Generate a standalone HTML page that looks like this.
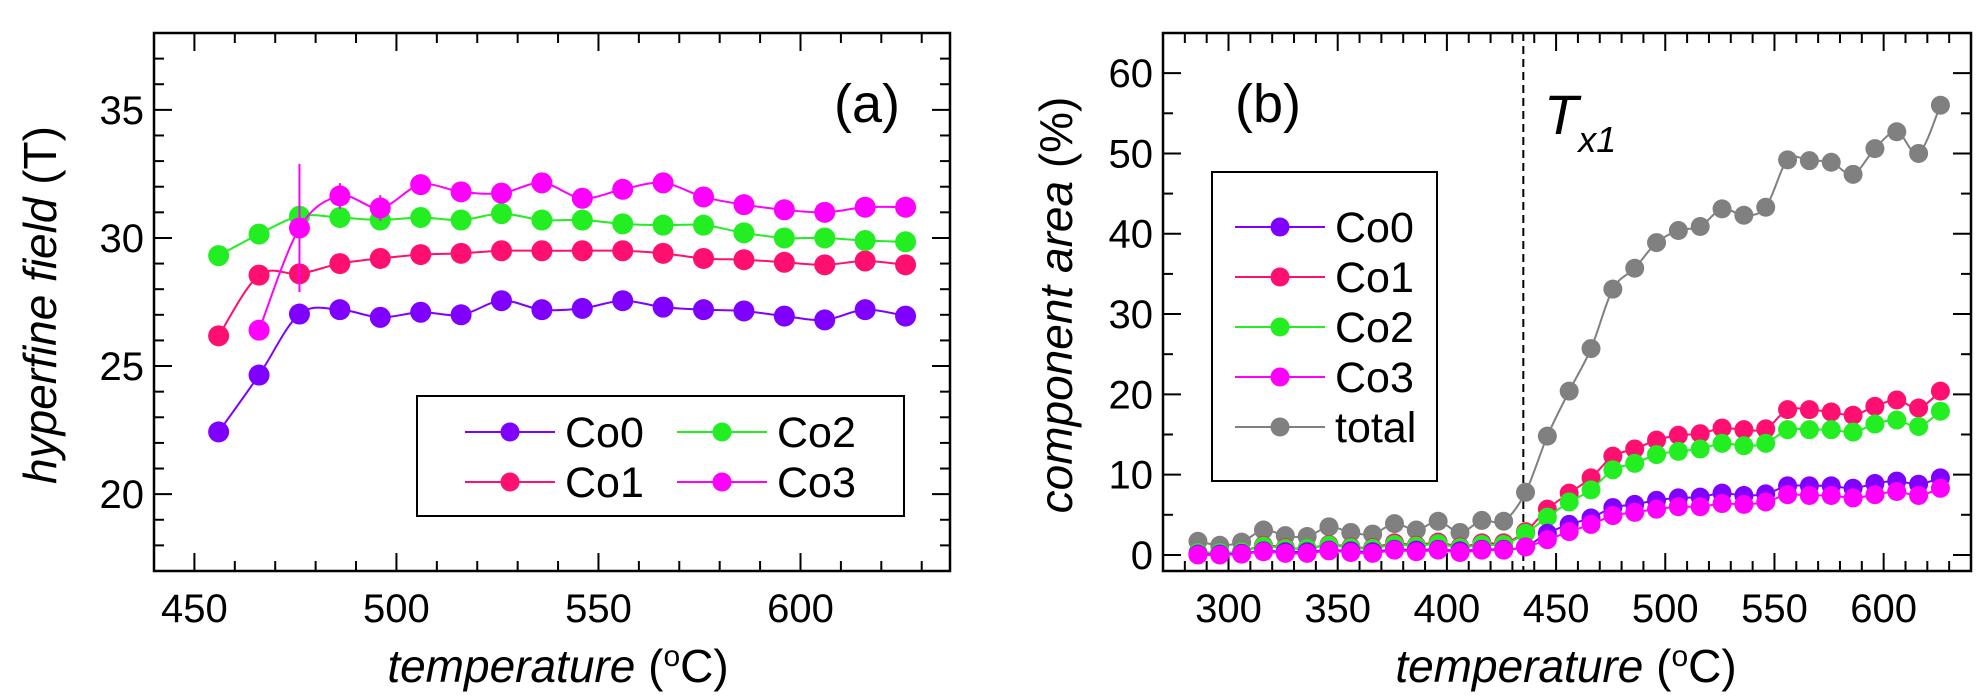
<!DOCTYPE html>
<html><head><meta charset="utf-8"><style>
html,body{margin:0;padding:0;background:#fff;}
svg{display:block;font-family:"Liberation Sans",sans-serif;}
</style></head><body>
<svg id="fig" width="1977" height="700" viewBox="0 0 1977 700" xmlns="http://www.w3.org/2000/svg"></svg>
<script>
// ---------- Panel (a) data ----------
const aTemps = [456,466,476,486,496,506,516,526,536,546,556,566,576,586,596,606,616,626];
const aCo0 = [22.43,24.65,27.03,27.2,26.9,27.1,27.0,27.55,27.2,27.25,27.55,27.3,27.2,27.15,26.95,26.8,27.2,26.95];
const aCo1 = [26.18,28.55,28.6,29.0,29.2,29.35,29.4,29.5,29.5,29.5,29.5,29.4,29.2,29.15,29.05,28.95,29.1,28.95];
const aCo2 = [29.31,30.15,30.85,30.8,30.7,30.8,30.7,30.95,30.7,30.7,30.55,30.5,30.5,30.2,30.0,30.0,29.9,29.85];
const aCo3Temps = [466,476,486,496,506,516,526,536,546,556,566,576,586,596,606,616,626];
const aCo3 = [26.4,30.39,31.64,31.17,32.08,31.8,31.75,32.15,31.55,31.9,32.15,31.6,31.3,31.1,31.0,31.2,31.2];
const aCo3Err = [0.3,2.5,0.5,0.5,0.3,0.3,0.4,0.3,0.4,0.2,0.3,0.3,0.3,0.2,0.3,0.3,0.3];
const aXTicks = [450,500,550,600];
const aYTicks = [20,25,30,35];
// ---------- Panel (b) data ----------
const bTemps = [286,296,306,316,326,336,346,356,366,376,386,396,406,416,426,436,446,456,466,476,486,496,506,516,526,536,546,556,566,576,586,596,606,616,626];
const bTotal = [1.7,1.2,1.6,3.1,2.4,2.3,3.5,2.8,2.6,3.9,3.1,4.2,2.8,4.3,4.2,7.8,14.8,20.4,25.7,33.1,35.7,38.9,40.4,40.9,43.1,42.3,43.3,49.2,49.1,48.9,47.4,50.6,52.7,50.0,56.0];
const bCo1 = [0.3,0.3,0.4,1.2,0.9,0.8,1.3,1.0,0.9,1.5,1.2,1.6,1.0,1.5,1.5,2.9,5.7,7.7,9.6,12.3,13.2,14.3,14.9,15.1,15.8,15.6,15.7,18.1,18.1,17.8,17.4,18.5,19.3,18.3,20.4];
const bCo2 = [0.3,0.3,0.4,1.1,0.8,0.8,1.2,0.9,0.8,1.3,1.1,1.4,0.9,1.3,1.3,2.7,4.7,6.6,8.1,10.6,11.4,12.5,12.9,13.2,13.9,13.6,13.9,15.6,15.6,15.6,15.3,16.3,16.8,16.0,17.9];
const bCo0 = [0.1,0.1,0.2,0.5,0.4,0.4,0.6,0.5,0.4,0.7,0.6,0.7,0.5,0.7,0.7,1.0,2.7,3.8,4.6,5.9,6.3,6.8,7.1,7.2,7.7,7.4,7.6,8.6,8.6,8.6,8.3,8.9,9.2,8.8,9.6];
const bCo3 = [0.0,0.0,0.1,0.4,0.2,0.2,0.5,0.3,0.2,0.6,0.4,0.6,0.3,0.6,0.6,1.0,1.9,2.9,3.8,4.9,5.3,5.7,6.0,6.0,6.4,6.3,6.6,7.5,7.4,7.4,7.1,7.5,7.9,7.4,8.3];
const bXTicks = [300,350,400,450,500,550,600];
const bYTicks = [0,10,20,30,40,50,60];
const bTx1 = 435;

const NS = "http://www.w3.org/2000/svg";
const svg = document.getElementById('fig');
function mk(tag, attrs, parent){ const e=document.createElementNS(NS,tag); for(const k in attrs) e.setAttribute(k,attrs[k]); (parent||svg).appendChild(e); return e; }
function smooth(pts){
  if(pts.length<2) return '';
  let d='M'+pts[0][0]+','+pts[0][1];
  for(let i=0;i<pts.length-1;i++){
    const p0=pts[Math.max(0,i-1)],p1=pts[i],p2=pts[i+1],p3=pts[Math.min(pts.length-1,i+2)];
    const c1=[p1[0]+(p2[0]-p0[0])/6,p1[1]+(p2[1]-p0[1])/6];
    const c2=[p2[0]-(p3[0]-p1[0])/6,p2[1]-(p3[1]-p1[1])/6];
    d+=' C'+c1[0]+','+c1[1]+' '+c2[0]+','+c2[1]+' '+p2[0]+','+p2[1];
  }
  return d;
}
function makeAxes(P){
  P.sx = v => P.L + (v-P.x0)/(P.x1-P.x0)*(P.R-P.L);
  P.sy = v => P.B - (v-P.y0)/(P.y1-P.y0)*(P.B-P.T);
}
function drawFrame(P, g, xt, yt, xminor, yminor){
  const f=mk('rect',{x:P.L,y:P.T,width:P.R-P.L,height:P.B-P.T,fill:'none',stroke:'#000','stroke-width':2.5},g);
  
  
  for(let v=Math.ceil(P.x0/xminor)*xminor; v<=P.x1; v+=xminor){
    const major = xt.includes(v); const len = major?18:10; const x=P.sx(v);
    const t1=mk('line',{x1:x,y1:P.B,x2:x,y2:P.B-len,stroke:'#000','stroke-width':2},g);
    
    
    const t2=mk('line',{x1:x,y1:P.T,x2:x,y2:P.T+len,stroke:'#000','stroke-width':2},g);
    
    
    if(major){
      const tx=mk('text',{x:x,y:P.B+51,'font-size':40,'text-anchor':'middle'},g); tx.textContent=v;
      
      
    }
  }
  for(let v=Math.ceil(P.y0/yminor)*yminor; v<=P.y1; v+=yminor){
    const major = yt.includes(v); const len = major?18:10; const y=P.sy(v);
    const t1=mk('line',{x1:P.L,y1:y,x2:P.L+len,y2:y,stroke:'#000','stroke-width':2},g);
    
    
    const t2=mk('line',{x1:P.R,y1:y,x2:P.R-len,y2:y,stroke:'#000','stroke-width':2},g);
    
    
    if(major){
      const tx=mk('text',{x:P.L-10,y:y+14,'font-size':40,'text-anchor':'end'},g); tx.textContent=v;
      
      
    }
  }
}
function series(P,g,name,xs,ys,color,r,errs){
  const sg=mk('g',{},g);
  
  
  const pts=xs.map((x,i)=>[P.sx(x),P.sy(ys[i])]);
  const p=mk('path',{d:smooth(pts),fill:'none',stroke:color,'stroke-width':2},sg);
  
  
  if(errs){
    xs.forEach((x,i)=>{
      const e=mk('line',{x1:P.sx(x),x2:P.sx(x),y1:P.sy(ys[i]-errs[i]),y2:P.sy(ys[i]+errs[i]),stroke:color,'stroke-width':2},sg);
      
      
    });
  }
  xs.forEach((x,i)=>{
    const c=mk('circle',{cx:P.sx(x),cy:P.sy(ys[i]),r:r,fill:color},sg);
    
    
  });
}
function legendEntry(g,P,x,y,name,color,len){
  const eg=mk('g',{},g);
  
  
  mk('line',{x1:x,y1:y,x2:x+len,y2:y,stroke:color,'stroke-width':2},eg);
  mk('circle',{cx:x+len/2,cy:y,r:9.5,fill:color},eg);
  const t=mk('text',{x:x+len+10,y:y+15,'font-size':43},eg); t.textContent=name;
}
const C0='#7f00ff',C1='#ff1070',C2='#22ee22',C3='#ff00ff',CT='#808080';

// ---------- Panel a ----------
const A={id:'panel-a',L:154,R:950,T:33,B:571,x0:440,x1:637,y0:17,y1:38}; makeAxes(A);
const ga=mk('g',{});  
drawFrame(A,ga,aXTicks,aYTicks,10,1);
series(A,ga,'co0',aTemps,aCo0,C0,10.5);
series(A,ga,'co1',aTemps,aCo1,C1,10.5);
series(A,ga,'co2',aTemps,aCo2,C2,10.5);
series(A,ga,'co3',aCo3Temps,aCo3,C3,10.5,aCo3Err);
const la=mk('g',{},ga);  
mk('rect',{x:417,y:396,width:487,height:120,fill:'#fff',stroke:'#000','stroke-width':2},la);
legendEntry(la,A,465,432,'Co0',C0,90);
legendEntry(la,A,465,482,'Co1',C1,90);
legendEntry(la,A,677,432,'Co2',C2,90);
legendEntry(la,A,677,482,'Co3',C3,90);
const lbA=mk('text',{x:867,y:122,'font-size':54,'text-anchor':'middle'},ga); lbA.textContent='(a)';
 
const xtA=mk('text',{x:558,y:682,'font-size':46,'text-anchor':'middle'},ga);
xtA.innerHTML='<tspan font-style="italic">temperature</tspan>  (<tspan dy="-16" font-size="30">o</tspan><tspan dy="16">C)</tspan>';
 
const ytA=mk('text',{x:0,y:0,'font-size':46,'text-anchor':'middle',transform:'translate(56,305) rotate(-90)'},ga);
ytA.innerHTML='<tspan font-style="italic">hyperfine field</tspan>  (T)';
 

// ---------- Panel b ----------
const B={id:'panel-b',L:1163,R:1971,T:33,B:571,x0:270,x1:640,y0:-2,y1:65}; makeAxes(B);
const gb=mk('g',{});  
drawFrame(B,gb,bXTicks,bYTicks,10,5);
const dl=mk('line',{x1:B.sx(bTx1),x2:B.sx(bTx1),y1:B.T,y2:B.B,stroke:'#000','stroke-width':2,'stroke-dasharray':'8,5'},gb);
 
series(B,gb,'total',bTemps,bTotal,CT,9.5);
series(B,gb,'co1',bTemps,bCo1,C1,9.5);
series(B,gb,'co2',bTemps,bCo2,C2,9.5);
series(B,gb,'co0',bTemps,bCo0,C0,9.5);
series(B,gb,'co3',bTemps,bCo3,C3,9.5);
const lb=mk('g',{},gb);  
mk('rect',{x:1212,y:172,width:225,height:309,fill:'#fff',stroke:'#000','stroke-width':2},lb);
legendEntry(lb,B,1235,227,'Co0',C0,90);
legendEntry(lb,B,1235,277,'Co1',C1,90);
legendEntry(lb,B,1235,327,'Co2',C2,90);
legendEntry(lb,B,1235,377,'Co3',C3,90);
legendEntry(lb,B,1235,427,'total',CT,90);
const lbB=mk('text',{x:1268,y:122,'font-size':54,'text-anchor':'middle'},gb); lbB.textContent='(b)';
 
const tx=mk('text',{x:1544,y:134,'font-size':56,'font-style':'italic'},gb);
tx.innerHTML='T<tspan dy="18" font-size="36">x1</tspan>';
 
const xtB=mk('text',{x:1566,y:682,'font-size':46,'text-anchor':'middle'},gb);
xtB.innerHTML='<tspan font-style="italic">temperature</tspan>  (<tspan dy="-16" font-size="30">o</tspan><tspan dy="16">C)</tspan>';
 
const ytB=mk('text',{x:0,y:0,'font-size':46,'text-anchor':'middle',transform:'translate(1072,305) rotate(-90)'},gb);
ytB.innerHTML='<tspan font-style="italic">component area</tspan>  (%)';
 
</script>
</body></html>
